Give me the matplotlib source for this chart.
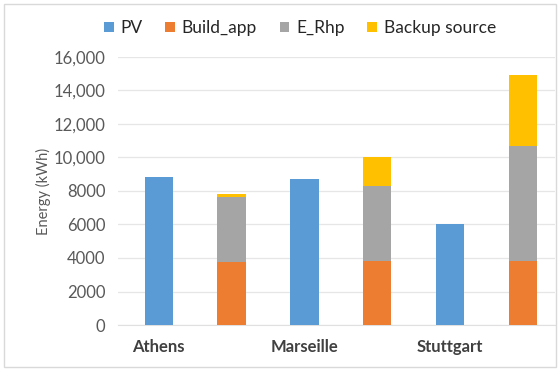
import matplotlib
matplotlib.use('Agg')
import matplotlib.pyplot as plt
import numpy as np
from matplotlib.patches import Rectangle

# data
cities = ['Athens', 'Marseille', 'Stuttgart']
pv = [8850, 8700, 6000]
build_app = [3750, 3800, 3800]
e_rhp = [3900, 4500, 6900]
backup = [200, 1700, 4200]

colors = {'PV': '#5B9BD5', 'Build_app': '#ED7D31', 'E_Rhp': '#A5A5A5', 'Backup source': '#FFC000'}

plt.rcParams['font.family'] = ['Lato', 'DejaVu Sans']

fig = plt.figure(figsize=(5.6, 3.71), dpi=100)
ax = fig.add_axes([118 / 560, 46 / 371, 437 / 560, 268 / 371])

n = len(cities)
x_pv = np.arange(n) * 2
x_st = x_pv + 1
w = 0.39

ax.bar(x_pv, pv, w, color=colors['PV'], label='PV', zorder=3)
ax.bar(x_st, build_app, w, color=colors['Build_app'], label='Build_app', zorder=3)
ax.bar(x_st, e_rhp, w, bottom=build_app, color=colors['E_Rhp'], label='E_Rhp', zorder=3)
bottom2 = np.array(build_app) + np.array(e_rhp)
ax.bar(x_st, backup, w, bottom=bottom2, color=colors['Backup source'], label='Backup source', zorder=3)

ax.set_xlim(-0.56, 5.44)
ax.set_ylim(0, 16000)
yt = np.arange(0, 16001, 2000)
ax.set_yticks(yt)
ax.set_yticklabels([f'{v:,}' if v >= 10000 else str(v) for v in yt], fontsize=12, color='#595959')
ax.set_xticks(x_pv)
ax.set_xticklabels(cities, fontsize=12, color='#404040', fontweight='bold')
ax.tick_params(length=0, pad=9)
ax.tick_params(axis='x', pad=10)
ax.grid(axis='y', color='#E6E6E6', linewidth=0.9, zorder=0)
for s in ['top', 'right', 'left']:
    ax.spines[s].set_visible(False)
ax.spines['bottom'].set_color('#E0E0E0')
ax.set_ylabel('Energy (kWh)', fontsize=10.5, color='#595959', labelpad=2)

fig.legend(loc='center', bbox_to_anchor=(300 / 560, 1 - 28 / 371), ncol=4, frameon=False,
           fontsize=12.5, handlelength=0.55, handleheight=0.55, handletextpad=0.4, columnspacing=1.3,
           labelcolor='#262626')

# light border around the chart
fig.patches.append(Rectangle((4 / 560, 4 / 371), 552 / 560, 363 / 371, transform=fig.transFigure,
                             fill=False, edgecolor='#D9D9D9', linewidth=1))

fig.savefig('out.png', dpi=100, facecolor='white')
